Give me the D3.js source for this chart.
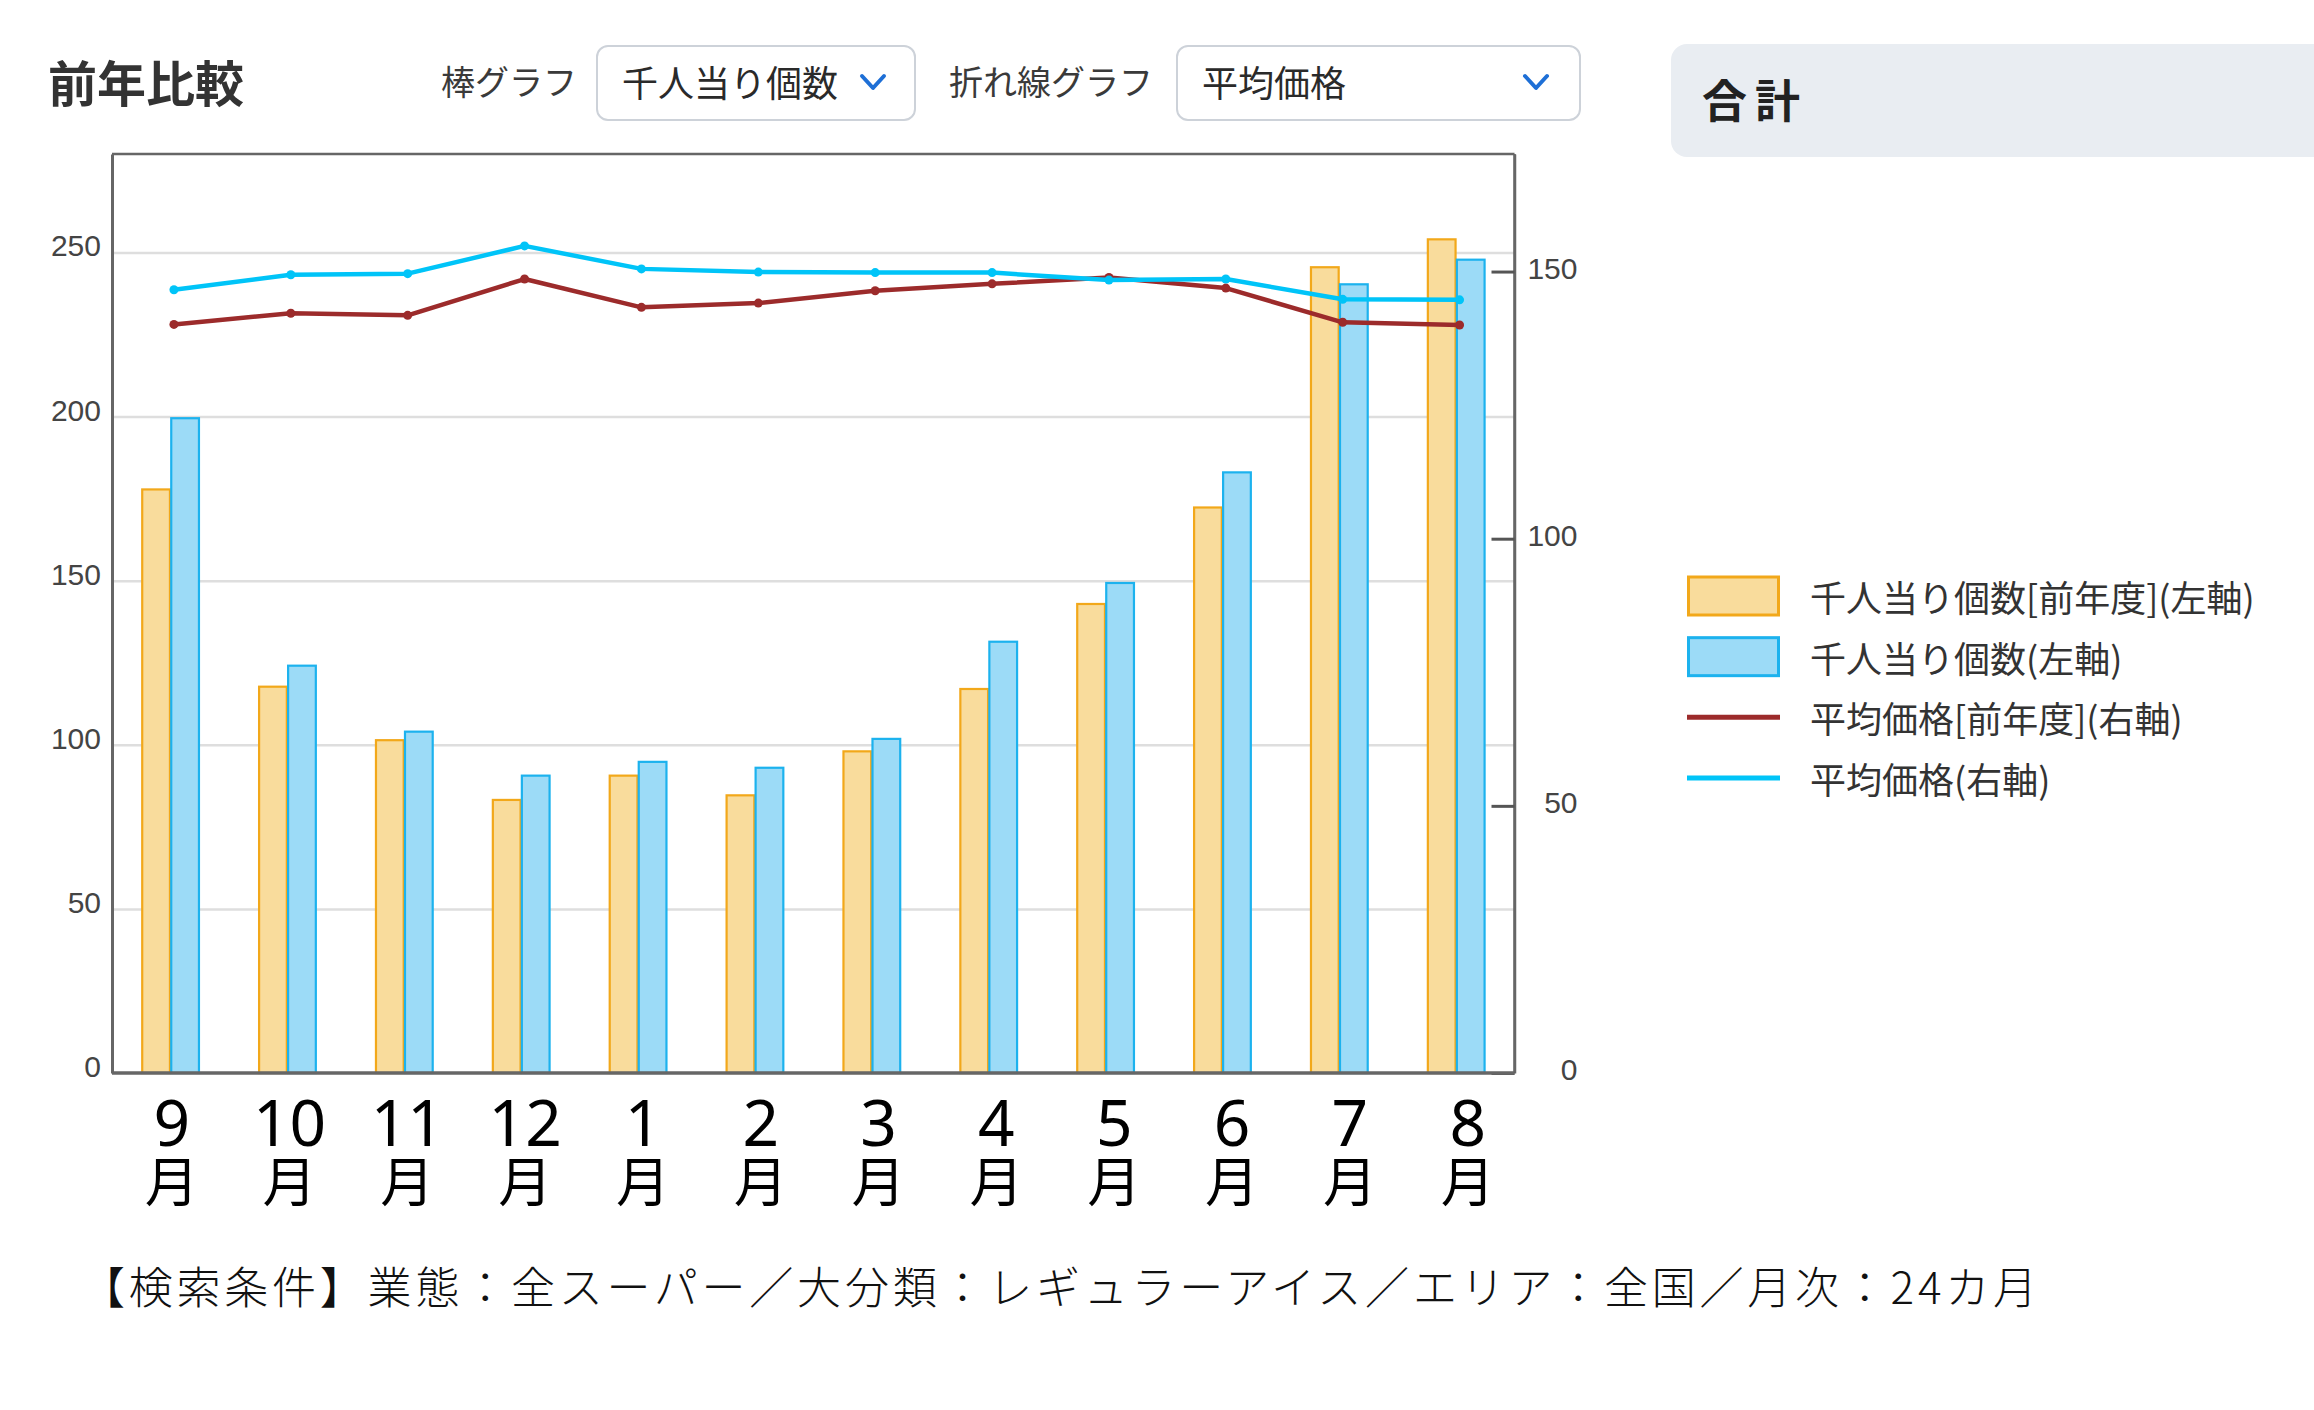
<!DOCTYPE html>
<html lang="ja">
<head>
<meta charset="utf-8">
<script src="https://cdn.jsdelivr.net/npm/d3@7"></script>
<style>
  html, body { margin: 0; padding: 0; background: #fff; }
  svg { display: block; }
  .mlab { width: 100%; text-align: center; color: #000; }
  .mlab .num { font-family: 'Noto Sans', 'Open Sans', sans-serif; font-size: 64px; line-height: 57px; height: 57px; }
  .mlab .suf { font-family: 'Noto Sans CJK JP', sans-serif; font-size: 54px; line-height: 57px; height: 57px; }
</style>
</head>
<body>
<svg id="chart" width="2314" height="1410"></svg>
<script>
// ---------- data ----------
const months = ["9", "10", "11", "12", "1", "2", "3", "4", "5", "6", "7", "8"];
const monthSuffix = "月";
const prevCount = [177.8, 117.7, 101.4, 83.2, 90.6, 84.6, 98.0, 117.0, 142.9, 172.3, 245.5, 254.0];
const currCount = [199.5, 124.1, 104.0, 90.6, 94.8, 93.0, 101.8, 131.4, 149.3, 183.0, 240.3, 247.8];
const prevPrice = [140.1, 142.2, 141.8, 148.6, 143.3, 144.1, 146.4, 147.7, 148.9, 146.9, 140.5, 140.0];
const currPrice = [146.6, 149.4, 149.6, 154.8, 150.5, 149.9, 149.8, 149.8, 148.4, 148.6, 144.8, 144.7];
const leftTicks = [0, 50, 100, 150, 200, 250];
const rightTicks = [0, 50, 100, 150];
const leftDomain = [0, 280];
const rightDomain = [0, 172];
const legendLabels = ["千人当り個数[前年度](左軸)", "千人当り個数(左軸)", "平均価格[前年度](右軸)", "平均価格(右軸)"];
const titleText = "前年比較";
const barSelectLabel = "棒グラフ";
const barSelectValue = "千人当り個数";
const lineSelectLabel = "折れ線グラフ";
const lineSelectValue = "平均価格";
const panelTitle = "合計";
const footnote = "【検索条件】業態：全スーパー／大分類：レギュラーアイス／エリア：全国／月次：24カ月";

// ---------- styles ----------
const C = {
  orangeFill: "#f9dc9c", orangeStroke: "#f2a81a",
  blueFill: "#9cdbf7", blueStroke: "#1cb2ee",
  red: "#9c2b2b", cyan: "#00c4f8",
  frame: "#666", grid: "#dedede", text: "#333"
};
const CJK = "'Noto Sans CJK JP', 'Noto Sans', sans-serif";
const NUM = "'Liberation Sans Narrow', 'Liberation Sans', Arial, sans-serif";

const svg = d3.select("#chart");
svg.append("rect").attr("width", 2314).attr("height", 1410).attr("fill", "#fff");

const P = { left: 112, right: 1514.5, top: 154, bottom: 1073 };

// ---------- scales ----------
const x = d3.scaleBand().domain(months).range([P.left, P.right]).paddingInner(0.5).paddingOuter(0.25);
const xSub = d3.scaleBand().domain(["prev", "curr"]).range([0, x.bandwidth()]);
const xLabel = d3.scalePoint().domain(months).range([171.7, 1467.7]);
const yL = d3.scaleLinear().domain(leftDomain).range([P.bottom, P.top]);
const yR = d3.scaleLinear().domain(rightDomain).range([P.bottom, P.top]);
const lineX = m => x(m) + x.bandwidth() / 2 + 3.5;

// ---------- header ----------
svg.append("text").attr("x", 48).attr("y", 80).attr("dominant-baseline", "central")
  .attr("font-family", CJK).attr("font-weight", 700).attr("font-size", 49).attr("fill", C.text)
  .text(titleText);

function dropdown(labelX, label, boxX, boxW, value, chevX) {
  svg.append("text").attr("x", labelX).attr("y", 80).attr("dominant-baseline", "central")
    .attr("font-family", CJK).attr("font-size", 34).attr("fill", "#3a3a3a").text(label);
  svg.append("rect").attr("x", boxX).attr("y", 46).attr("width", boxW).attr("height", 74)
    .attr("rx", 11).attr("fill", "#fff").attr("stroke", "#cdd2d9").attr("stroke-width", 2);
  svg.append("text").attr("x", boxX + 25).attr("y", 81).attr("dominant-baseline", "central")
    .attr("font-family", CJK).attr("font-size", 36).attr("fill", "#2a2a2a").text(value);
  svg.append("path").attr("d", `M${chevX - 11},${76} L${chevX},${88} L${chevX + 11},${76}`)
    .attr("fill", "none").attr("stroke", "#1e6fd6").attr("stroke-width", 4)
    .attr("stroke-linecap", "round").attr("stroke-linejoin", "round");
}
dropdown(441, barSelectLabel, 597, 318, barSelectValue, 873);
dropdown(949, lineSelectLabel, 1177, 403, lineSelectValue, 1536);

// right panel
svg.append("rect").attr("x", 1671).attr("y", 44).attr("width", 720).attr("height", 113)
  .attr("rx", 16).attr("fill", "#e9edf2");
svg.append("text").attr("x", 1702).attr("y", 98).attr("dominant-baseline", "central")
  .attr("font-family", CJK).attr("font-weight", 600).attr("font-size", 45).attr("letter-spacing", 8)
  .attr("fill", "#222").text(panelTitle);

// ---------- grid ----------
svg.append("g").attr("transform", `translate(${P.left},0)`)
  .call(d3.axisLeft(yL).tickValues(leftTicks.filter(d => d > 0)).tickSize(-(P.right - P.left)).tickFormat(""))
  .call(g => g.select(".domain").remove())
  .call(g => g.selectAll("line").attr("stroke", C.grid).attr("stroke-width", 2.5));

// ---------- bars ----------
const barData = months.map((m, i) => ({ m, prev: prevCount[i], curr: currCount[i] }));
const groups = svg.append("g").selectAll("g").data(barData).join("g")
  .attr("transform", d => `translate(${x(d.m)},0)`);
groups.append("rect")
  .attr("x", xSub("prev") + 1).attr("width", xSub.bandwidth() - 1.5)
  .attr("y", d => yL(d.prev)).attr("height", d => yL(0) - yL(d.prev))
  .attr("fill", C.orangeFill).attr("stroke", C.orangeStroke).attr("stroke-width", 2.2);
groups.append("rect")
  .attr("x", xSub("curr") + 0.8).attr("width", xSub.bandwidth() - 1.5)
  .attr("y", d => yL(d.curr)).attr("height", d => yL(0) - yL(d.curr))
  .attr("fill", C.blueFill).attr("stroke", C.blueStroke).attr("stroke-width", 2.2);

// ---------- frame ----------
const frame = svg.append("g");
frame.append("line").attr("x1", P.left).attr("x2", P.right).attr("y1", P.top).attr("y2", P.top)
  .attr("stroke", C.frame).attr("stroke-width", 2.5);
frame.append("line").attr("x1", P.right).attr("x2", P.right).attr("y1", P.top).attr("y2", P.bottom)
  .attr("stroke", C.frame).attr("stroke-width", 2.5);

// left axis
svg.append("g").attr("transform", `translate(${P.left},0)`)
  .call(d3.axisLeft(yL).tickValues(leftTicks).tickSize(0).tickPadding(11))
  .call(g => g.select(".domain").attr("stroke", C.frame).attr("stroke-width", 3))
  .call(g => g.selectAll("text").attr("font-family", NUM).attr("font-size", 30).attr("fill", "#444")
    .attr("dy", null).attr("dominant-baseline", "central").attr("transform", "translate(0,-7)"));

// right axis (ticks inside)
svg.append("g").attr("transform", `translate(${P.right},0)`)
  .call(d3.axisRight(yR).tickValues(rightTicks).tickSizeInner(-23).tickSizeOuter(0).tickPadding(63))
  .call(g => g.select(".domain").attr("stroke", C.frame).attr("stroke-width", 2.5))
  .call(g => g.selectAll("line").attr("stroke", "#555").attr("stroke-width", 3))
  .call(g => g.selectAll("text").attr("font-family", NUM).attr("font-size", 30).attr("fill", "#444")
    .attr("text-anchor", "end").attr("dy", null).attr("dominant-baseline", "central")
    .attr("transform", "translate(0,-4)"));

// bottom axis line
svg.append("g").attr("transform", `translate(0,${P.bottom})`)
  .call(d3.axisBottom(xLabel).tickSize(0).tickFormat(""))
  .call(g => g.select(".domain").attr("d", `M${P.left},0H${P.right}`).attr("stroke", C.frame).attr("stroke-width", 3.5));

// month labels (two stacked lines in one block)
const labW = 110;
const fo = svg.append("g").selectAll("foreignObject").data(months).join("foreignObject")
  .attr("x", d => xLabel(d) - labW / 2).attr("y", 1093).attr("width", labW).attr("height", 120);
const div = fo.append("xhtml:div").attr("class", "mlab");
div.append("xhtml:div").attr("class", "num").text(d => d);
div.append("xhtml:div").attr("class", "suf").text(monthSuffix);

// ---------- lines ----------
function drawLine(values, color) {
  const pts = months.map((m, i) => [lineX(m), yR(values[i])]);
  svg.append("path").attr("d", d3.line()(pts)).attr("fill", "none")
    .attr("stroke", color).attr("stroke-width", 4.5).attr("stroke-linejoin", "round");
  svg.append("g").selectAll("circle").data(pts).join("circle")
    .attr("cx", d => d[0]).attr("cy", d => d[1]).attr("r", 4.5).attr("fill", color);
}
drawLine(prevPrice, C.red);
drawLine(currPrice, C.cyan);

// ---------- legend ----------
const legY = d3.scalePoint().domain(legendLabels).range([596, 778]);
const leg = svg.append("g").selectAll("g").data(legendLabels).join("g")
  .attr("transform", d => `translate(1687,${legY(d)})`);
leg.each(function (d, i) {
  const g = d3.select(this);
  if (i < 2) {
    g.append("rect").attr("x", 1.5).attr("y", -19).attr("width", 90).attr("height", 38)
      .attr("fill", i === 0 ? C.orangeFill : C.blueFill)
      .attr("stroke", i === 0 ? C.orangeStroke : C.blueStroke).attr("stroke-width", 3);
  } else {
    g.append("line").attr("x1", 0).attr("x2", 93).attr("y1", 0).attr("y2", 0)
      .attr("stroke", i === 2 ? C.red : C.cyan).attr("stroke-width", 5);
  }
  g.append("text").attr("x", 123).attr("y", 0).attr("dominant-baseline", "central")
    .attr("font-family", CJK).attr("font-size", 36).attr("fill", "#333").text(d);
});

// ---------- footnote ----------
svg.append("text").attr("x", 81).attr("y", 1285).attr("dominant-baseline", "central")
  .attr("font-family", CJK).attr("font-weight", 300).attr("font-size", 44).attr("fill", "#111")
  .attr("textLength", 1956).attr("lengthAdjust", "spacing")
  .text(footnote);
</script>
</body>
</html>
